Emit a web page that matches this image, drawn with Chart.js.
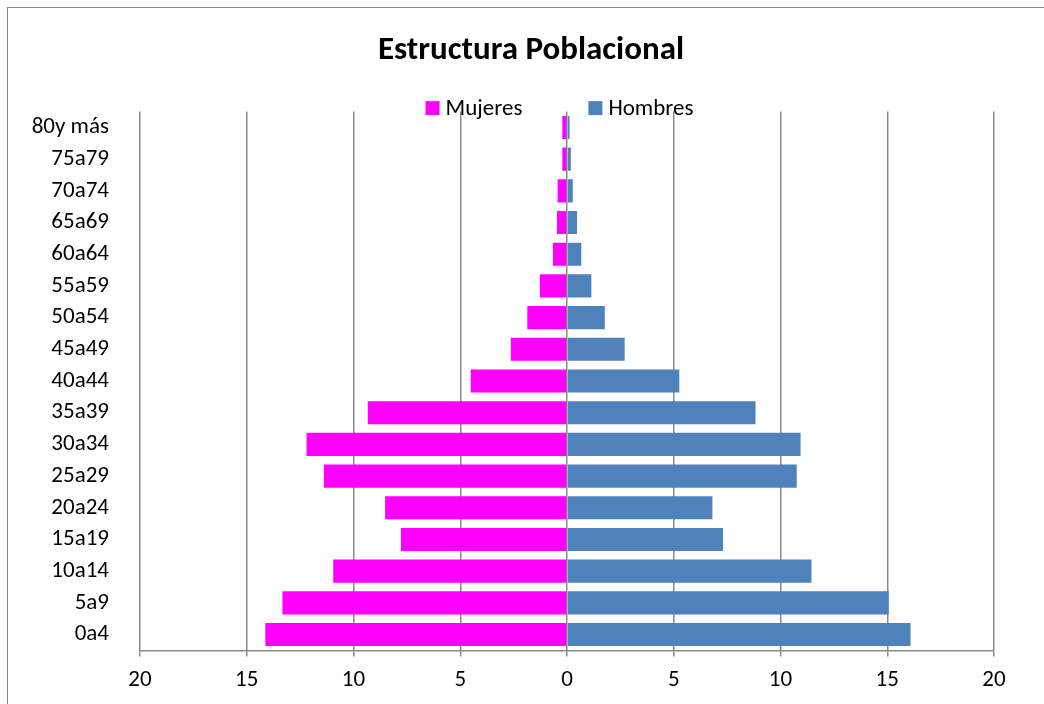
<!DOCTYPE html>
<html>
<head>
<meta charset="utf-8">
<script src="https://cdn.jsdelivr.net/npm/chart.js@4"></script>
<style>
    body { margin: 0; background: #fff; overflow: hidden; }
    #frame { position: absolute; left: 7px; top: 7px; width: 1100px; height: 760px; border: 1px solid #888; }
    #wrap { position: absolute; left: 0; top: 0; width: 1044px; height: 704px; }
</style>
</head>
<body>
<div id="frame"></div>
<div id="wrap"><canvas id="pyramidChart"></canvas></div>
<script>
const ageGroups = ['80y más', '75a79', '70a74', '65a69', '60a64', '55a59', '50a54', '45a49', '40a44',
                   '35a39', '30a34', '25a29', '20a24', '15a19', '10a14', '5a9', '0a4'];
const mujeres = [0.22, 0.22, 0.44, 0.47, 0.66, 1.27, 1.86, 2.63, 4.51, 9.33, 12.2, 11.39, 8.52, 7.78, 10.95, 13.33, 14.13];
const hombres = [0.12, 0.18, 0.27, 0.47, 0.67, 1.14, 1.77, 2.70, 5.26, 8.83, 10.94, 10.76, 6.81, 7.31, 11.45, 15.07, 16.09];
const xTicks = [-20, -15, -10, -5, 0, 5, 10, 15, 20];

const FONT = "Carlito, 'Liberation Sans Narrow', 'Liberation Sans', sans-serif";
const gridGray = '#898989';

// Excel style legend sitting on top of the plot area
const topLegend = {
    id: 'topLegend',
    afterLayout(chart) {
        // the title in the original is centred on the whole chart frame, not the plot
        chart.titleBlock.left += 34;
        chart.titleBlock.right += 34;
    },
    afterDraw(chart) {
        const ctx = chart.ctx;
        const area = chart.chartArea;
        const box = 14, gap = 6, itemGap = 66;
        ctx.save();
        ctx.font = '23px ' + FONT;
        ctx.textBaseline = 'middle';
        const items = chart.data.datasets.map(ds => ({
            text: ds.label, color: ds.backgroundColor, w: box + gap + ctx.measureText(ds.label).width
        }));
        const total = items.reduce((s, it) => s + it.w, 0) + itemGap * (items.length - 1);
        let x = (area.left + area.right) / 2 - 7.5 - total / 2;
        const y = area.top - 3.5;
        items.forEach(it => {
            ctx.fillStyle = it.color;
            ctx.fillRect(x, y - box / 2, box, box);
            ctx.fillStyle = '#000';
            ctx.fillText(it.text, x + box + gap, y + 1);
            x += it.w + itemGap;
        });
        ctx.restore();
    }
};

const ctx = document.getElementById('pyramidChart').getContext('2d');
new Chart(ctx, {
    type: 'bar',
    data: {
        labels: ageGroups,
        datasets: [
            { label: 'Mujeres', data: mujeres.map(v => -v), backgroundColor: '#FF00FF', barPercentage: 0.73, categoryPercentage: 1 },
            { label: 'Hombres', data: hombres, backgroundColor: '#4F81BD', barPercentage: 0.73, categoryPercentage: 1 }
        ]
    },
    options: {
        indexAxis: 'y',
        responsive: true,
        maintainAspectRatio: false,
        animation: false,
        layout: { padding: { left: 0, right: 50, top: 0, bottom: 0 } },
        plugins: {
            legend: { display: false },
            tooltip: { enabled: false },
            title: {
                display: true,
                text: 'Estructura Poblacional',
                color: '#000',
                font: { family: FONT, size: 33, weight: 'bold' },
                padding: { top: 31, bottom: 41 }
            }
        },
        scales: {
            x: {
                stacked: true,
                min: -20,
                max: 20,
                afterBuildTicks: scale => { scale.ticks = xTicks.map(v => ({ value: v })); },
                ticks: {
                    color: '#000',
                    font: { family: FONT, size: 23 },
                    padding: 10,
                    callback: value => Math.abs(value)
                },
                grid: { color: gridGray, lineWidth: 1.5, tickLength: 6, tickColor: gridGray },
                border: { color: gridGray, width: 1.5 }
            },
            y: {
                stacked: true,
                afterFit: scale => { scale.width = 140; },
                ticks: { color: '#000', font: { family: FONT, size: 23 }, padding: 23 },
                grid: { display: false },
                border: { display: false }
            }
        }
    },
    plugins: [topLegend]
});
</script>
</body>
</html>
